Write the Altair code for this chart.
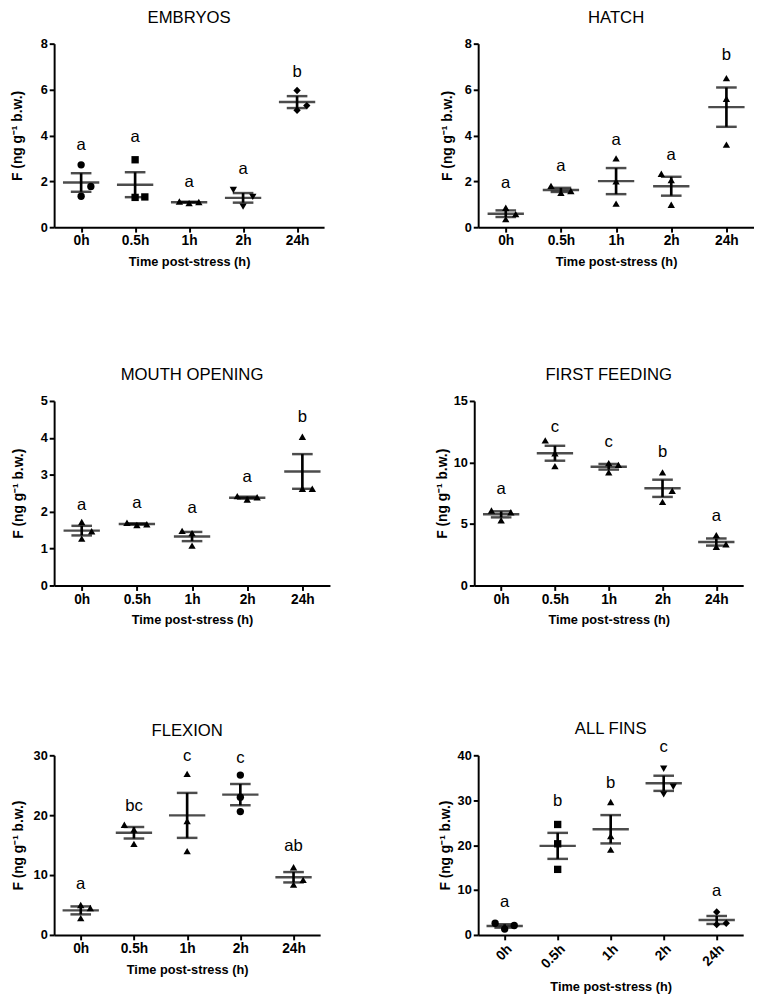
import json
import altair as alt
import pandas as pd

times = ["0h", "0.5h", "1h", "2h", "24h"]

# ---- data (3 replicates per time point) ----
embryos_values = [[2.72, 1.78, 1.35], [2.94, 1.30, 1.32], [1.12, 1.05, 1.10], [1.62, 1.32, 0.90], [5.96, 5.30, 5.10]]
embryos_spread = [[0, 1, 0], [0, 0, 1], [-1, 0, 1], [-1, 1, 0], [0, 1, 0]]
embryos_shapes = ["circle", "square", "triangle-up", "triangle-down", "diamond"]
embryos_letters = ["a", "a", "a", "a", "b"]
embryos_letter_y = [3.56, 3.93, 1.96, 2.55, 6.76]

hatch_values = [[0.85, 0.57, 0.35], [1.80, 1.50, 1.58], [3.0, 2.0, 1.03], [2.33, 2.05, 0.98], [6.5, 5.6, 3.6]]
hatch_spread = [[0, 1, 0], [-1, 0, 1], [0, 0, 0], [-1, 0, 0], [0, 0, 0]]
hatch_shapes = ["triangle-up"] * 5
hatch_letters = ["a", "a", "a", "a", "b"]
hatch_letter_y = [1.94, 2.65, 3.78, 3.14, 7.5]

mouth_values = [[1.72, 1.47, 1.27], [1.70, 1.64, 1.66], [1.48, 1.42, 1.08], [2.42, 2.33, 2.39], [4.03, 2.62, 2.62]]
mouth_spread = [[0, 1, 0], [-1, 0, 1], [-1, 0, 0], [-1, 0, 1], [0, 0, 1]]
mouth_shapes = ["triangle-up"] * 5
mouth_letters = ["a", "a", "a", "a", "b"]
mouth_letter_y = [2.19, 2.22, 2.09, 2.93, 4.57]

feeding_values = [[6.1, 5.95, 5.3], [11.8, 10.75, 9.7], [9.95, 9.8, 9.2], [9.2, 7.7, 6.8], [4.1, 3.35, 3.15]]
feeding_spread = [[-1, 1, 0], [-1, 0, 0], [0, 1, 0], [0, 1, 0], [0, 1, 0]]
feeding_shapes = ["triangle-up"] * 5
feeding_letters = ["a", "c", "c", "b", "a"]
feeding_letter_y = [7.86, 12.87, 11.63, 10.81, 5.61]

flexion_values = [[5.0, 4.5, 2.8], [18.4, 17.6, 15.2], [26.9, 19.0, 14.0], [26.7, 23.0, 20.6], [11.3, 9.2, 8.4]]
flexion_spread = [[0, 1, 0], [-1, 0, 0], [0, 0, 0], [0, 0, 0], [0, 1, 0]]
flexion_shapes = ["triangle-up", "triangle-up", "triangle-up", "circle", "triangle-up"]
flexion_letters = ["a", "bc", "c", "c", "ab"]
flexion_letter_y = [8.49, 21.5, 29.8, 29.6, 14.86]

fins_values = [[2.6, 2.1, 1.3], [24.6, 20.3, 14.6], [29.6, 22.0, 19.0], [37.0, 33.0, 31.3], [5.1, 2.6, 2.3]]
fins_spread = [[-1, 1, 0], [0, 0, 0], [0, 0, 0], [0, 1, 0], [0, 1, 0]]
fins_shapes = ["circle", "square", "triangle-up", "triangle-down", "diamond"]
fins_letters = ["a", "b", "b", "c", "a"]
fins_letter_y = [7.33, 29.9, 33.85, 41.8, 9.78]

panel_titles = ["EMBRYOS", "HATCH", "MOUTH OPENING", "FIRST FEEDING", "FLEXION", "ALL FINS"]
y_ticks = [[0, 2, 4, 6, 8], [0, 2, 4, 6, 8], [0, 1, 2, 3, 4, 5], [0, 5, 10, 15], [0, 10, 20, 30], [0, 10, 20, 30, 40]]

FONT = "Liberation Sans"
YTITLE = "F (ng g\u207b\u00b9 b.w.)"
XTITLE = "Time post-stress (h)"
label_expr = json.dumps(times) + "[datum.value]"


def make_panel(title, values, spread, shapes, letters, letter_y, yvals, w, h, ytp,
               angle=0, toff=11):
    rows = []
    for i, t in enumerate(times):
        for v, s in zip(values[i], spread[i]):
            rows.append({"idx": i, "time": t, "value": v, "slot": s, "shape": shapes[i]})
    df = pd.DataFrame(rows)
    ldf = pd.DataFrame({"idx": list(range(len(times))), "letter": letters, "ly": letter_y})

    xs = alt.Scale(domain=[-0.5, len(times) - 0.5], nice=False, zero=False)
    ys = alt.Scale(domain=[yvals[0], yvals[-1]], nice=False)
    xax = alt.Axis(values=list(range(len(times))), labelExpr=label_expr, title=XTITLE,
                   labelAngle=angle, labelFontSize=14, titlePadding=8 if angle == 0 else 10)
    yax = alt.Axis(values=yvals, title=YTITLE, titlePadding=ytp, titleFontSize=14)

    base = alt.Chart(df)
    pts = base.transform_calculate(xj="datum.idx + datum.slot * 0.18").mark_point(
        filled=True, size=56, color="black", opacity=1
    ).encode(
        x=alt.X("xj:Q", scale=xs, axis=xax),
        y=alt.Y("value:Q", scale=ys, axis=yax),
        shape=alt.Shape("shape:N", scale=None),
    )
    stats = base.transform_aggregate(
        mean="mean(value)", sem="stderr(value)", groupby=["idx"]
    ).transform_calculate(lo="datum.mean - datum.sem", hi="datum.mean + datum.sem")

    X = alt.X("idx:Q", scale=xs, axis=xax)
    mean_t = stats.mark_tick(orient="horizontal", size=37, thickness=2.5, color="black").encode(
        x=X, y=alt.Y("mean:Q", scale=ys, axis=yax))
    lo_t = stats.mark_tick(orient="horizontal", size=21, thickness=2.5, color="black").encode(
        x=X, y=alt.Y("lo:Q", scale=ys, axis=yax))
    hi_t = stats.mark_tick(orient="horizontal", size=21, thickness=2.5, color="black").encode(
        x=X, y=alt.Y("hi:Q", scale=ys, axis=yax))
    bar = stats.mark_rule(strokeWidth=2.7, color="black").encode(
        x=X, y=alt.Y("lo:Q", scale=ys, axis=yax), y2="hi:Q")
    txt = alt.Chart(ldf).mark_text(font=FONT, fontSize=17, color="black", baseline="middle").encode(
        x=alt.X("idx:Q", scale=xs, axis=xax), y=alt.Y("ly:Q", scale=ys, axis=yax), text="letter:N")

    return alt.layer(pts, bar, mean_t, lo_t, hi_t, txt).properties(
        width=w, height=h,
        title=alt.TitleParams(title, font=FONT, fontSize=17, fontWeight="normal",
                              color="black", anchor="middle", offset=toff),
    )


p1 = make_panel(panel_titles[0], embryos_values, embryos_spread, embryos_shapes, embryos_letters, embryos_letter_y, y_ticks[0], 275, 187, 16)
p2 = make_panel(panel_titles[1], hatch_values, hatch_spread, hatch_shapes, hatch_letters, hatch_letter_y, y_ticks[1], 281, 187, 10)
p3 = make_panel(panel_titles[2], mouth_values, mouth_spread, mouth_shapes, mouth_letters, mouth_letter_y, y_ticks[2], 281, 188, 15)
p4 = make_panel(panel_titles[3], feeding_values, feeding_spread, feeding_shapes, feeding_letters, feeding_letter_y, y_ticks[3], 274, 188, 4)
p5 = make_panel(panel_titles[4], flexion_values, flexion_spread, flexion_shapes, flexion_letters, flexion_letter_y, y_ticks[4], 271, 183, 8, toff=8)
p6 = make_panel(panel_titles[5], fins_values, fins_spread, fins_shapes, fins_letters, fins_letter_y, y_ticks[5], 270, 183, 5, angle=-45, toff=0)

top_rows = alt.vconcat(
    alt.hconcat(p1, p2, spacing=118),
    alt.hconcat(p3, p4, spacing=107),
    spacing=100,
)
chart = alt.vconcat(
    top_rows,
    alt.hconcat(p5, p6, spacing=120),
    spacing=95,
).properties(
    padding={"left": 2, "top": -8, "right": 0, "bottom": 0},
    background="white",
).configure_view(stroke=None).configure_axis(
    grid=False, domainColor="black", domainWidth=2, tickColor="black", tickWidth=2, tickSize=5,
    labelPadding=2, labelFont=FONT, labelFontWeight="bold", labelFontSize=13, labelColor="black",
    titleFont=FONT, titleFontWeight="bold", titleFontSize=13, titleColor="black",
)

chart.save("out.html", embed_options={"renderer": "svg", "actions": False})
